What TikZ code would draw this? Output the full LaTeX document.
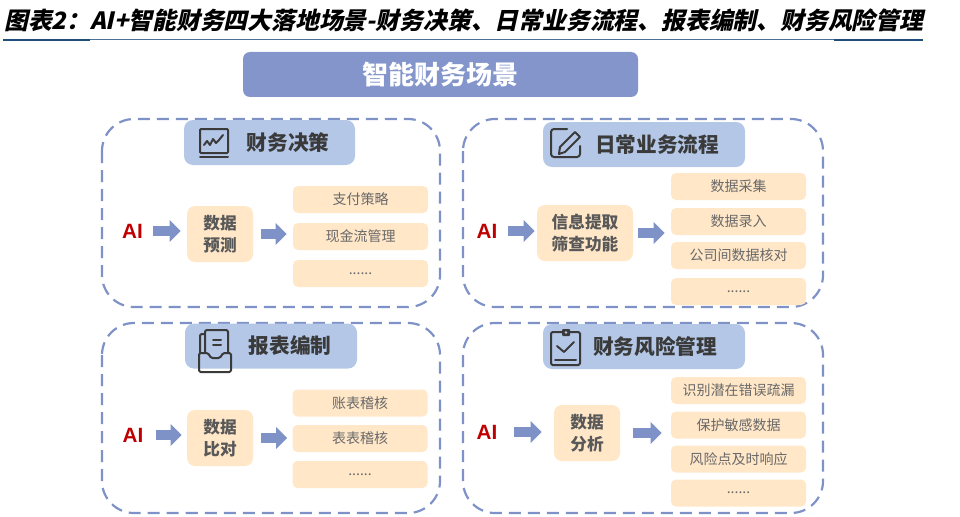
\documentclass[tikz,border=0pt]{standalone}
\usepackage{fontspec}
\setmainfont{Noto Sans CJK SC}
\newfontfamily\latinB{Liberation Sans}
\newfontfamily\ttlfont[FakeSlant=0.22]{Noto Sans CJK SC}
\usetikzlibrary{arrows.meta, positioning, calc}
\newdimen\pxu \pxu=0.75pt

\definecolor{lineB}{RGB}{127,146,200}
\definecolor{headB}{RGB}{180,199,231}
\definecolor{boxO}{RGB}{255,231,200}
\definecolor{bannerB}{RGB}{131,149,203}
\definecolor{txtD}{RGB}{58,58,58}
\definecolor{txtG}{RGB}{89,89,89}
\definecolor{txtL}{RGB}{105,105,105}
\definecolor{aiR}{RGB}{192,0,0}
\definecolor{ruleB}{RGB}{31,78,121}

\tikzset{
    panelD/.style={draw=lineB, line width=2.2\pxu, dash pattern=on 12\pxu off 7\pxu, rounded corners=32\pxu},
    headBox/.style={fill=headB, rounded corners=9\pxu, inner sep=0pt, minimum height=45\pxu},
    headT/.style={font=\fontsize{15.5pt}{18pt}\selectfont\bfseries, text=txtD, inner sep=0pt},
    bannerN/.style={fill=bannerB, rounded corners=7\pxu, inner sep=0pt, text=white,
        font=\fontsize{19.5pt}{22pt}\selectfont\bfseries},
    aiT/.style={font=\latinB\fontsize{15.5pt}{18pt}\selectfont\bfseries, text=aiR, inner sep=0pt},
    boxD/.style={fill=boxO, rounded corners=8\pxu, inner sep=0pt, minimum height=56\pxu, align=center,
        text=txtG, font=\fontsize{12.5pt}{16.3pt}\selectfont\bfseries},
    itemO/.style={fill=boxO, rounded corners=5\pxu, inner sep=0pt, minimum width=135\pxu, minimum height=27\pxu,
        text=txtL, font=\fontsize{10.5pt}{12pt}\selectfont},
    arrowB/.style={draw=lineB, line width=7.5pt, -{Triangle[length=8.25pt, width=15.75pt]}},
    iconL/.style={draw=txtD, line width=2\pxu, line cap=round, line join=round}
}

\begin{document}
\begin{tikzpicture}[x=0.75pt, y=-0.75pt]
    \useasboundingbox (0,0) rectangle (960,517);
    % title and rule
    \node[anchor=west, inner sep=0pt, text=black, font=\ttlfont\bfseries\fontsize{17.85pt}{20pt}\selectfont] (ttl) at (4,20)
        {图表2：AI+智能财务四大落地场景-财务决策、日常业务流程、报表编制、财务风险管理};
    \draw[ruleB!80, line width=1\pxu] (3,40) -- (923,40);
    \draw[ruleB, line width=2.5\pxu] (3,40) -- (90,40);
    \draw[ruleB, line width=2.5\pxu] (834,40) -- (923,40);
    \node[bannerN, minimum width=395\pxu, minimum height=45\pxu] (ban) at (440.5,74.5) {智能财务场景};

    % panels
    \draw[panelD] (102,119) rectangle (440,307);
    \draw[panelD] (463,119) rectangle (823,307);
    \draw[panelD] (102,323) rectangle (440,513);
    \draw[panelD] (463,323) rectangle (823,513);

    % headers
    \node[headBox, minimum width=171\pxu] (h1) at (269.5,142.5) {};
    \node[headT] (h1t) at (288,143) {财务决策};
    \node[headBox, minimum width=202\pxu] (h2) at (644,144.5) {};
    \node[headT] (h2t) at (657,145) {日常业务流程};
    \node[headBox, minimum width=172\pxu] (h3) at (271,346) {};
    \node[headT] (h3t) at (290,346) {报表编制};
    \node[headBox, minimum width=202\pxu] (h4) at (644,346.5) {};
    \node[headT] (h4t) at (655,347) {财务风险管理};

    % icons
    \draw[iconL, rounded corners=1\pxu] (200,129) rectangle (228,153);
    \draw[iconL] (200,157) -- (228,157);
    \draw[iconL] (204,145) -- (207,141) -- (210,145) -- (213,139) -- (216,143) -- (219,140) -- (223,135);

    \draw[iconL, rounded corners=3\pxu] (567,129) -- (551,129) -- (551,157) -- (580,157) -- (580,146);
    \draw[iconL] (559,154) -- (560,147) -- (575,132) -- (580,137) -- (565,152) -- cycle;

    \draw[iconL, rounded corners=1.5\pxu] (199,353) -- (208,353) -- (211,358) -- (220,358) -- (223,353)
        -- (231,353) -- (231,372) -- (199,372) -- cycle;
    \draw[iconL, rounded corners=2\pxu] (205,353) -- (205,330) -- (228,330) -- (228,353);
    \draw[iconL, rounded corners=2\pxu] (200,353) -- (200,334) -- (205,334);
    \draw[iconL] (213,340) -- (221,340);
    \draw[iconL] (213,345) -- (221,345);

    \draw[iconL, rounded corners=1.5\pxu] (551,332) rectangle (580,365);
    \fill[txtD, rounded corners=1\pxu] (562,329) rectangle (570,336);
    \fill[headB] (566,332.5) circle (1.3);
    \draw[iconL] (557,346) -- (564,352) -- (574,342);
    \draw[iconL] (555,360) -- (576,360);

    % AI nodes
    \node[aiT] (ai1) at (132.5,231) {AI};
    \node[aiT] (ai2) at (487,231) {AI};
    \node[aiT] (ai3) at (133,435) {AI};
    \node[aiT] (ai4) at (487,432) {AI};

    % middle boxes
    \node[boxD, minimum width=66\pxu] (b1) at (220,234) {数据\\预测};
    \node[boxD, minimum width=96\pxu] (b2) at (585,233) {信息提取\\筛查功能};
    \node[boxD, minimum width=66\pxu] (b3) at (220,438) {数据\\比对};
    \node[boxD, minimum width=66\pxu] (b4) at (587,433) {数据\\分析};

    % lists
    \node[itemO] (l1a) at (360.5,199.5) {支付策略};
    \node[itemO] (l1b) at (360.5,236.5) {现金流管理};
    \node[itemO] (l1c) at (360.5,273.5) {......};

    \node[itemO] (l2a) at (738.5,186.5) {数据采集};
    \node[itemO] (l2b) at (738.5,221.5) {数据录入};
    \node[itemO] (l2c) at (738.5,255.5) {公司间数据核对};
    \node[itemO] (l2d) at (738.5,291.5) {......};

    \node[itemO] (l3a) at (360,403) {账表稽核};
    \node[itemO] (l3b) at (360,438.5) {表表稽核};
    \node[itemO] (l3c) at (360,474.5) {......};

    \node[itemO] (l4a) at (738.5,390.5) {识别潜在错误疏漏};
    \node[itemO] (l4b) at (738.5,425) {保护敏感数据};
    \node[itemO] (l4c) at (738.5,459) {风险点及时响应};
    \node[itemO] (l4d) at (738.5,493) {......};

    % arrows
    \draw[arrowB, shorten <=7.5pt, shorten >=4.5pt] (ai1.east) -- (ai1.east -| b1.west);
    \draw[arrowB, shorten <=6pt, shorten >=4.5pt] (b1.east) -- (b1.east -| l1b.west);
    \draw[arrowB, shorten <=7.5pt, shorten >=1.5pt] (ai2.east) -- (ai2.east -| b2.west);
    \draw[arrowB, shorten <=3.75pt, shorten >=4.5pt] (b2.east) -- (b2.east -| l2b.west);
    \draw[arrowB, shorten <=9pt, shorten >=3.75pt] (ai3.east) -- (ai3.east -| b3.west);
    \draw[arrowB, shorten <=6pt, shorten >=3.75pt] (b3.east) -- (b3.east -| l3b.west);
    \draw[arrowB, shorten <=12pt, shorten >=9pt] (ai4.east) -- (ai4.east -| b4.west);
    \draw[arrowB, shorten <=9.75pt, shorten >=6.75pt] (b4.east) -- (b4.east -| l4b.west);
\end{tikzpicture}
\end{document}
